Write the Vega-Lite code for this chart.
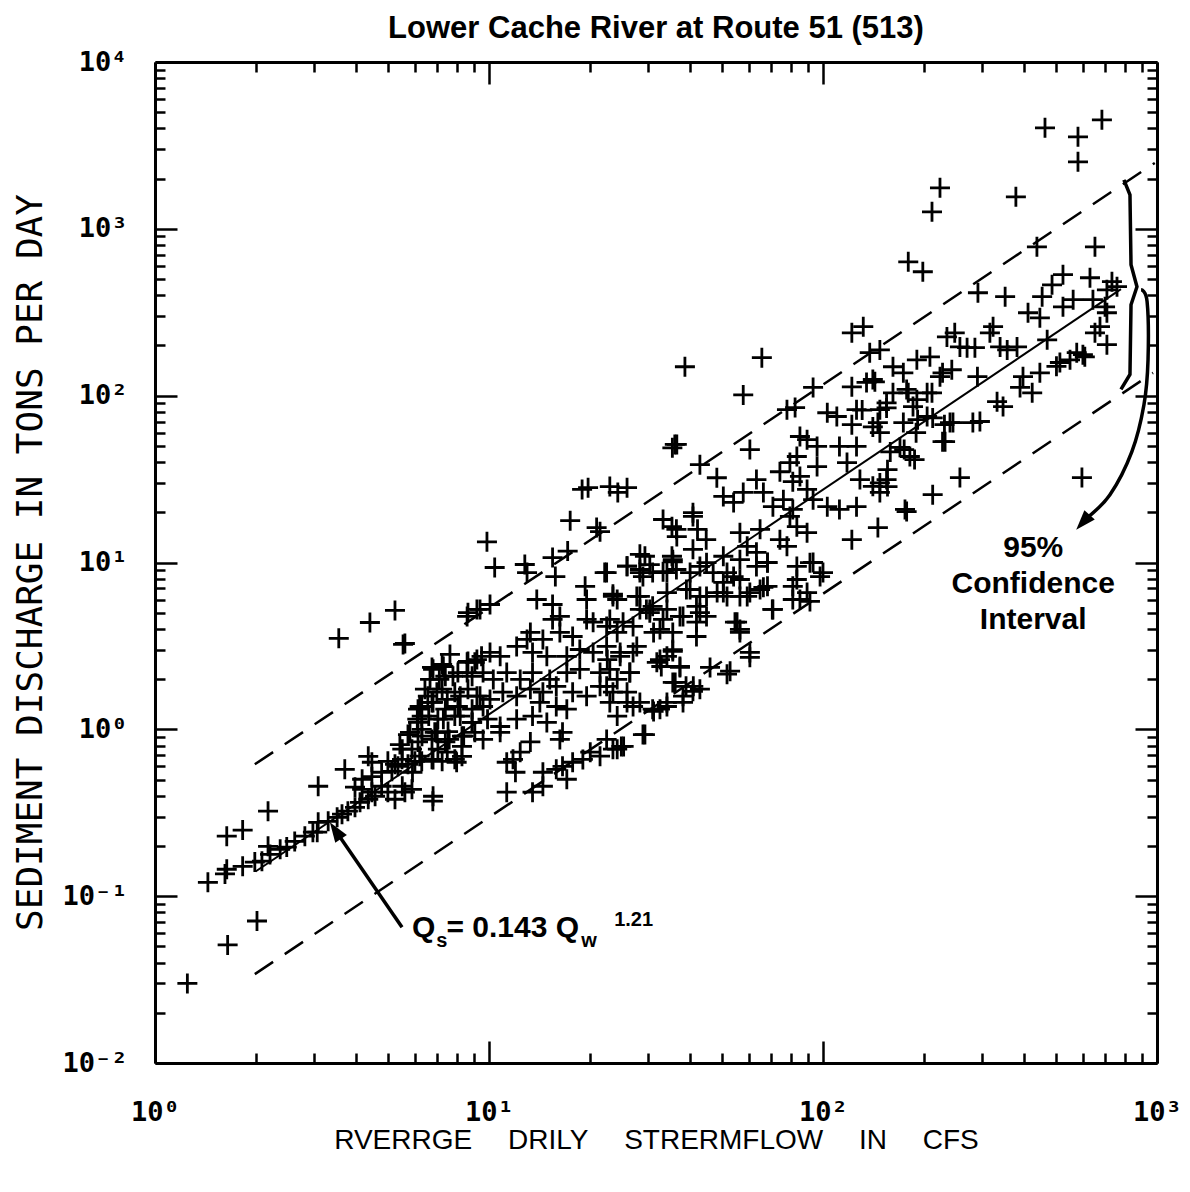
{
  "$schema": "https://vega.github.io/schema/vega-lite/v6.json",
  "width": 1002,
  "height": 1001,
  "autosize": "none",
  "padding": {"left": 155, "top": 62, "right": 33, "bottom": 129},
  "background": "white",
  "title": {"text": "Lower Cache River at Route 51 (513)", "font": "Liberation Sans", "fontWeight": "bold", "fontSize": 31, "color": "black", "anchor": "middle", "baseline": "alphabetic", "offset": 25, "dy": 46},
  "config": {
    "view": {"stroke": null},
    "axis": {"domainColor": "black", "domainWidth": 3, "tickColor": "black", "tickWidth": 2.5, "grid": false, "labelColor": "black", "titleColor": "black", "labelFont": "DejaVu Sans Mono", "labelFontWeight": "bold", "labelFontSize": 27}
  },
  "datasets": {
    "pts": [
      {"q":1.25,"s":0.030},{"q":1.65,"s":0.051},{"q":2.02,"s":0.071},{"q":1.44,"s":0.121},{"q":1.62,"s":0.136},{"q":1.64,"s":0.145},{"q":1.83,"s":0.151},{"q":1.99,"s":0.16},{"q":2.09,"s":0.162},{"q":2.21,"s":0.178},{"q":2.37,"s":0.191},{"q":2.18,"s":0.199},{"q":2.48,"s":0.197},{"q":2.62,"s":0.213},{"q":2.81,"s":0.229},{"q":2.97,"s":0.242},{"q":3.08,"s":0.277},{"q":3.06,"s":0.242},{"q":3.30,"s":0.281},{"q":3.51,"s":0.297},{"q":3.63,"s":0.31},{"q":3.78,"s":0.323},{"q":3.97,"s":0.341},{"q":4.11,"s":0.365},{"q":4.35,"s":0.381},{"q":4.56,"s":0.397},{"q":3.97,"s":0.45},{"q":4.17,"s":0.437},{"q":4.46,"s":0.42},{"q":4.77,"s":0.456},{"q":4.98,"s":0.42},{"q":5.23,"s":0.381},{"q":5.60,"s":0.42},{"q":5.88,"s":0.437},{"q":4.17,"s":0.502},{"q":4.46,"s":0.52},{"q":4.77,"s":0.553},{"q":5.12,"s":0.56},{"q":5.34,"s":0.60},{"q":5.72,"s":0.617},{"q":6.0,"s":0.643},{"q":4.35,"s":0.689},{"q":4.46,"s":0.635},{"q":4.98,"s":0.643},{"q":5.23,"s":0.617},{"q":5.49,"s":0.661},{"q":6.29,"s":0.643},{"q":6.75,"s":0.661},{"q":7.24,"s":0.643},{"q":7.9,"s":0.661},{"q":8.3,"s":0.689},{"q":6.79,"s":0.371},{"q":1.64,"s":0.229},{"q":1.83,"s":0.249},{"q":2.18,"s":0.323},{"q":3.08,"s":0.456},{"q":3.70,"s":0.576},{"q":3.55,"s":3.51},{"q":4.40,"s":4.37},{"q":5.23,"s":5.16},{"q":5.53,"s":3.23},{"q":8.65,"s":5.0},{"q":9.2,"s":5.23},
      {"q":6.75,"s":2.35},{"q":7.24,"s":2.45},{"q":8.65,"s":2.55},{"q":9.07,"s":2.52},{"q":9.5,"s":2.74},{"q":7.4,"s":2.08},{"q":8.07,"s":2.19},{"q":8.9,"s":2.08},{"q":7.24,"s":1.74},{"q":7.9,"s":1.67},{"q":8.65,"s":1.74},{"q":9.4,"s":1.58},{"q":6.29,"s":1.37},{"q":6.75,"s":1.45},{"q":7.4,"s":1.32},{"q":8.07,"s":1.37},{"q":8.9,"s":1.32},{"q":9.6,"s":1.37},{"q":6.29,"s":1.2},{"q":7.03,"s":1.15},{"q":7.9,"s":1.2},{"q":8.9,"s":1.10},{"q":6.29,"s":1.0},{"q":6.88,"s":0.96},{"q":7.54,"s":0.97},{"q":8.3,"s":0.91},{"q":9.07,"s":0.96},{"q":6.13,"s":0.84},{"q":6.75,"s":0.87},{"q":7.4,"s":0.84},{"q":8.3,"s":0.79},{"q":5.88,"s":0.76},{"q":7.03,"s":0.76},{"q":6.13,"s":1.32},{"q":6.56,"s":1.58},{"q":6.98,"s":1.67},{"q":6.13,"s":1.10},{"q":5.72,"s":0.93},{"q":5.41,"s":0.81},{"q":6.43,"s":1.74},{"q":6.66,"s":1.99},{"q":7.64,"s":2.81},
      {"q":36.5,"s":51},{"q":35.4,"s":48.7},{"q":19.0,"s":27.4},{"q":19.8,"s":28.1},{"q":23.0,"s":28.5},{"q":24.3,"s":26.3},{"q":25.9,"s":28.1},{"q":17.5,"s":17.8},{"q":21.0,"s":16.2},{"q":21.5,"s":15.3},{"q":9.86,"s":13.3},{"q":10.4,"s":9.33},{"q":12.8,"s":9.73},{"q":13.0,"s":8.7},{"q":15.5,"s":10.7},{"q":15.8,"s":8.24},{"q":17.2,"s":11.7},{"q":13.9,"s":6.0},{"q":15.5,"s":5.6},{"q":8.6,"s":4.75},{"q":9.4,"s":5.23},{"q":10.07,"s":5.6},{"q":5.6,"s":3.27},{"q":19.4,"s":7.2},{"q":19.6,"s":6.0},{"q":22.2,"s":8.7},{"q":23.5,"s":6.45},{"q":24.2,"s":6.0},{"q":28.3,"s":11.2},{"q":29.3,"s":10.9},{"q":25.9,"s":9.5},{"q":30.3,"s":9.7},{"q":28.3,"s":6.26},{"q":28.3,"s":8.7},{"q":33.2,"s":8.8},{"q":33.2,"s":18.1},{"q":35.3,"s":16.4},{"q":36.5,"s":14.3},{"q":40.8,"s":18.9},{"q":40.8,"s":12},{"q":35.3,"s":10.9},{"q":35.5,"s":10.1},{"q":40.0,"s":8.7},{"q":35.5,"s":3.0},{"q":32.5,"s":2.62},{"q":37.3,"s":2.38},{"q":36.1,"s":1.91},{"q":38.9,"s":1.81},{"q":40.8,"s":1.69},{"q":28.3,"s":1.45},{"q":30.9,"s":1.32},{"q":34.1,"s":1.37},{"q":38.1,"s":1.45},{"q":29.3,"s":0.93},{"q":24.9,"s":0.79},{"q":23.5,"s":0.76},{"q":21.5,"s":0.69},{"q":20.1,"s":0.73},{"q":19.1,"s":0.66},{"q":17.8,"s":0.635},{"q":16.6,"s":0.60},{"q":15.9,"s":0.576},{"q":14.5,"s":0.553},{"q":17.1,"s":0.502},{"q":14.5,"s":0.456},{"q":13.5,"s":0.42},{"q":11.8,"s":0.661},{"q":12.4,"s":0.73},{"q":11.3,"s":0.635},{"q":12.0,"s":0.553},{"q":11.3,"s":0.42},
      {"q":15.5,"s":4.56},{"q":16.3,"s":4.75},{"q":19.6,"s":4.56},{"q":20.5,"s":4.39},{"q":13.3,"s":3.81},{"q":14.5,"s":3.46},{"q":16.3,"s":3.81},{"q":17.8,"s":3.6},{"q":23.0,"s":4.56},{"q":24.2,"s":3.81},{"q":27.0,"s":4.14},{"q":29.6,"s":5.23},{"q":30.9,"s":5.46},{"q":10.07,"s":2.89},{"q":10.8,"s":2.74},{"q":12.1,"s":3.14},{"q":13.0,"s":3.46},{"q":13.5,"s":2.89},{"q":14.9,"s":2.74},{"q":17.1,"s":2.74},{"q":18.7,"s":3.01},{"q":20.5,"s":2.89},{"q":22.6,"s":2.62},{"q":24.7,"s":2.74},{"q":27.0,"s":2.89},{"q":6.8,"s":2.29},{"q":7.3,"s":2.38},{"q":8.6,"s":2.52},{"q":9.2,"s":2.62},{"q":7.1,"s":1.99},{"q":7.8,"s":2.08},{"q":8.6,"s":2.19},{"q":9.6,"s":2.19},{"q":10.3,"s":1.99},{"q":11.3,"s":2.19},{"q":12.4,"s":1.99},{"q":13.5,"s":2.19},{"q":15.2,"s":1.99},{"q":17.1,"s":2.19},{"q":18.7,"s":2.29},{"q":21.5,"s":2.19},{"q":24.2,"s":1.99},{"q":26.4,"s":2.19},{"q":6.2,"s":1.37},{"q":6.8,"s":1.45},{"q":7.5,"s":1.51},{"q":8.2,"s":1.58},{"q":9.2,"s":1.58},{"q":10.07,"s":1.51},{"q":11.0,"s":1.67},{"q":12.1,"s":1.58},{"q":13.3,"s":1.74},{"q":14.5,"s":1.67},{"q":15.9,"s":1.81},{"q":17.8,"s":1.67},{"q":19.6,"s":1.58},{"q":21.5,"s":1.81},{"q":23.5,"s":1.67},{"q":25.9,"s":1.45},{"q":6.1,"s":1.15},{"q":6.6,"s":1.2},{"q":7.3,"s":1.15},{"q":8.2,"s":1.2},{"q":8.9,"s":1.10},{"q":9.9,"s":1.15},{"q":10.8,"s":1.04},{"q":12.1,"s":1.15},{"q":13.5,"s":1.2},{"q":14.9,"s":1.10},{"q":15.9,"s":1.37},{"q":17.1,"s":1.32},{"q":14.2,"s":1.45},{"q":5.8,"s":0.96},{"q":6.3,"s":0.91},{"q":7.0,"s":0.96},{"q":7.6,"s":0.87},{"q":8.4,"s":0.91},{"q":9.6,"s":0.87},{"q":10.8,"s":0.96},{"q":16.6,"s":0.96},{"q":16.3,"s":0.87},{"q":13.3,"s":0.84},{"q":5.5,"s":0.76},{"q":6.2,"s":0.69},{"q":6.8,"s":0.66},{"q":7.5,"s":0.73},{"q":8.0,"s":0.635},{"q":5.9,"s":0.553},{"q":5.5,"s":0.456},{"q":6.8,"s":0.397},
      {"q":132,"s":259},{"q":122,"s":238},{"q":138,"s":181},{"q":148,"s":188},{"q":38.6,"s":149},{"q":65.6,"s":169},{"q":57.7,"s":101},{"q":36.0,"s":51},{"q":60.4,"s":47.5},{"q":42.8,"s":38.6},{"q":48.1,"s":32.2},{"q":93.4,"s":112},{"q":82.5,"s":84.8},{"q":78.0,"s":82.4},{"q":122,"s":113},{"q":135,"s":120},{"q":141,"s":125},{"q":162,"s":149},{"q":174,"s":137},{"q":178,"s":109},{"q":191,"s":94.6},{"q":103,"s":79},{"q":110,"s":75},{"q":126,"s":82.4},{"q":148,"s":82.4},{"q":155,"s":90.6},{"q":122,"s":67},{"q":141,"s":65},{"q":85.3,"s":56.9},{"q":89.6,"s":54.5},{"q":96.0,"s":49.6},{"q":112,"s":49.6},{"q":126,"s":49.6},{"q":174,"s":69},{"q":159,"s":46},{"q":79.6,"s":39.7},{"q":83.5,"s":43.2},{"q":96.0,"s":37.6},{"q":118,"s":39.7},{"q":129,"s":31.4},{"q":141,"s":28.6},{"q":155,"s":31.4},{"q":148,"s":26.3},{"q":74.3,"s":35.0},{"q":85.3,"s":32.8},{"q":63.2,"s":31.4},{"q":66.3,"s":26.3},{"q":81.2,"s":30.5},{"q":89.6,"s":27.4},{"q":50.3,"s":24.9},{"q":54.0,"s":22.9},{"q":57.7,"s":26.3},{"q":70.8,"s":21.6},{"q":76.1,"s":23.8},{"q":81.2,"s":20.8},{"q":93.4,"s":23.8},{"q":103,"s":21.6},{"q":112,"s":20.8},{"q":126,"s":21.6},{"q":178,"s":20.2},{"q":146,"s":16.2},{"q":122,"s":13.7},{"q":36.4,"s":15.8},{"q":40.8,"s":19.9},{"q":42.1,"s":15.8},{"q":44.7,"s":13.7},{"q":56.4,"s":15.1},{"q":59.3,"s":12.5},{"q":64.8,"s":15.8},{"q":79.6,"s":18.9},{"q":83.5,"s":16.4},{"q":89.6,"s":15.1},{"q":74.3,"s":13.7},{"q":78.0,"s":12.5},{"q":50.3,"s":10.9},{"q":56.4,"s":10.4},{"q":63.2,"s":11.5},{"q":68.2,"s":9.97},{"q":83.5,"s":9.47},{"q":91.4,"s":9.97},{"q":98.0,"s":8.24},{"q":83.5,"s":7.91},{"q":89.6,"s":6.6},{"q":81.2,"s":6.0},{"q":70.8,"s":5.23},{"q":68.2,"s":7.2},{"q":64.8,"s":6.89},{"q":28.3,"s":9.08},{"q":30.9,"s":8.7},{"q":35.5,"s":10.4},{"q":34.1,"s":8.7},{"q":42.8,"s":9.47},{"q":46.9,"s":8.7},{"q":50.3,"s":7.6},{"q":54.0,"s":8.24},{"q":40.0,"s":6.89},{"q":44.8,"s":6.26},{"q":50.3,"s":6.6},{"q":56.4,"s":6.26},{"q":60.4,"s":6.6},{"q":28.3,"s":5.23},{"q":30.3,"s":5.0},{"q":34.1,"s":5.23},{"q":37.3,"s":4.75},{"q":41.8,"s":5.46},{"q":44.8,"s":4.75},{"q":32.5,"s":3.97},{"q":35.5,"s":3.81},{"q":41.8,"s":3.6},{"q":55.3,"s":4.39},{"q":56.4,"s":3.81},{"q":60.4,"s":2.89},
      {"q":70.5,"s":5.23},{"q":60.4,"s":2.70},{"q":54.5,"s":4.39},{"q":56.4,"s":3.97},{"q":52.7,"s":2.23},{"q":51.6,"s":2.14},{"q":45.9,"s":2.35},{"q":42.8,"s":1.74},{"q":40.9,"s":1.81},{"q":38.1,"s":1.58},{"q":35.5,"s":1.91},{"q":34.1,"s":1.45},{"q":32.5,"s":1.32},{"q":31.1,"s":1.28},{"q":28.9,"s":0.93},{"q":37.3,"s":2.35},{"q":32.8,"s":2.38},{"q":35.5,"s":2.93},{"q":85.3,"s":6.0},{"q":91.4,"s":5.84},{"q":81.2,"s":7.2},{"q":100,"s":8.7},{"q":93.4,"s":10.0},{"q":66.3,"s":7.1},{"q":24.2,"s":0.76},{"q":25.3,"s":0.79},{"q":22.5,"s":0.87},{"q":22.5,"s":8.7},{"q":25.9,"s":9.5},{"q":28.9,"s":8.24},{"q":36.4,"s":9.08},{"q":44.8,"s":9.97},{"q":51.6,"s":8.7},{"q":56.4,"s":7.91},{"q":63.2,"s":9.47},{"q":68.2,"s":10.0},{"q":23.5,"s":6.26},{"q":27.7,"s":6.26},{"q":30.3,"s":5.23},{"q":34.1,"s":6.6},{"q":39.0,"s":6.9},{"q":42.8,"s":6.26},{"q":48.2,"s":6.6},{"q":51.6,"s":6.26},{"q":59.3,"s":6.26},{"q":22.5,"s":4.14},{"q":25.2,"s":4.39},{"q":31.1,"s":3.81},{"q":33.2,"s":4.56},{"q":38.1,"s":4.75},{"q":41.8,"s":4.39},{"q":42.8,"s":5.0},{"q":22.5,"s":3.14},{"q":24.7,"s":2.89},{"q":27.7,"s":3.14},{"q":31.8,"s":2.52},{"q":34.1,"s":2.74},{"q":23.0,"s":2.29},{"q":26.4,"s":2.19},{"q":22.5,"s":1.81},{"q":25.9,"s":1.67},{"q":23.0,"s":1.45},{"q":27.0,"s":1.37},{"q":24.2,"s":1.2},
      {"q":462,"s":4030},{"q":684,"s":4500},{"q":580,"s":3560},{"q":580,"s":2520},{"q":224,"s":1760},{"q":212,"s":1265},{"q":378,"s":1555},{"q":652,"s":780},{"q":180,"s":634},{"q":199,"s":553},{"q":437,"s":780},{"q":291,"s":414},{"q":351,"s":392},{"q":523,"s":531},{"q":485,"s":462},{"q":453,"s":392},{"q":630,"s":509},{"q":733,"s":482},{"q":759,"s":450},{"q":708,"s":431},{"q":561,"s":376},{"q":523,"s":341},{"q":643,"s":376},{"q":699,"s":341},{"q":708,"s":314},{"q":411,"s":314},{"q":446,"s":293},{"q":675,"s":259},{"q":652,"s":238},{"q":708,"s":202},{"q":575,"s":181},{"q":600,"s":176},{"q":512,"s":158},{"q":500,"s":150},{"q":549,"s":164},{"q":608,"s":171},{"q":469,"s":216},{"q":446,"s":137},{"q":397,"s":130},{"q":423,"s":104},{"q":389,"s":112},{"q":323,"s":259},{"q":316,"s":238},{"q":248,"s":238},{"q":235,"s":225},{"q":257,"s":196},{"q":270,"s":194},{"q":285,"s":194},{"q":339,"s":196},{"q":356,"s":188},{"q":381,"s":196},{"q":180,"s":104},{"q":212,"s":104},{"q":224,"s":130},{"q":243,"s":143},{"q":332,"s":92},{"q":346,"s":86},{"q":281,"s":69},{"q":295,"s":70},{"q":240,"s":69},{"q":232,"s":53},{"q":192,"s":71.8},{"q":205,"s":75},{"q":182,"s":43.2},{"q":188,"s":41.4},{"q":170,"s":49},{"q":257,"s":32.3},{"q":213,"s":25.5},{"q":176,"s":20.8},{"q":596,"s":32.3},{"q":191,"s":164},{"q":209,"s":171},{"q":228,"s":137},{"q":290,"s":130},{"q":143,"s":121},{"q":162,"s":104},{"q":205,"s":104},{"q":155,"s":84.4},{"q":186,"s":86},{"q":131,"s":82},{"q":146,"s":69},{"q":213,"s":73.6},{"q":231,"s":67},{"q":245,"s":69},{"q":148,"s":60},{"q":190,"s":60},{"q":228,"s":53},{"q":175,"s":47.5},{"q":156,"s":36},{"q":148,"s":30},{"q":156,"s":28.5}
    ],
    "dash": [
      {"q":1.99,"s":0.617,"g":"up"},{"q":985,"s":2483,"g":"up"},
      {"q":1.99,"s":0.0341,"g":"lo"},{"q":973,"s":137,"g":"lo"}
    ],
    "fit": [{"q":2.0,"s":0.1406},{"q":780,"s":435}],
    "brace": [
      {"q":796,"s":1965,"i":1},{"q":830,"s":1599,"i":2},{"q":836,"s":609,"i":3},{"q":871,"s":450,"i":4},{"q":836,"s":351,"i":5},{"q":830,"s":134,"i":6},{"q":780,"s":109,"i":7}
    ],
    "curve": [
      {"q":896,"s":431,"i":1},{"q":934,"s":366,"i":2},{"q":940,"s":164,"i":3},{"q":914,"s":88.3,"i":4},{"q":841,"s":46.2,"i":5},{"q":723,"s":25.5,"i":6},{"q":609,"s":18.1,"i":7}
    ],
    "arrow": [{"q":5.49,"s":0.0652},{"q":3.47,"s":0.2473}]
  },
  "layer": [
    {
      "data": {"name": "pts"},
      "mark": {"type": "point", "shape": "M-1,0L1,0M0,-1L0,1", "size": 400, "filled": false, "stroke": "black", "strokeWidth": 2.8, "opacity": 1},
      "encoding": {
        "x": {"field": "q", "type": "quantitative", "scale": {"type": "log", "domain": [1, 1000], "nice": false, "zero": false},
          "axis": {"orient": "bottom", "values": [1,2,3,4,5,6,7,8,9,10,20,30,40,50,60,70,80,90,100,200,300,400,500,600,700,800,900,1000],
            "labelExpr": "datum.value == 1 ? '10⁰' : datum.value == 10 ? '10¹' : datum.value == 100 ? '10²' : datum.value == 1000 ? '10³' : ''",
            "tickSize": {"condition": {"test": "indexof([1,10,100,1000], datum.value) >= 0", "value": -22}, "value": -10},
            "labelPadding": 58, "labelOverlap": false, "labelFlush": false,
            "title": "RVERRGE\u2003 DRILY\u2003 STRERMFLOW\u2003 IN\u2003 CFS", "titleFont": "Liberation Sans", "titleFontSize": 28, "titleFontWeight": "normal", "titleX": 501, "titleY": 77, "titleBaseline": "middle", "titleAlign": "center"}},
        "y": {"field": "s", "type": "quantitative", "scale": {"type": "log", "domain": [0.01, 10000], "nice": false, "zero": false},
          "axis": {"orient": "left", "values": [0.01,0.02,0.03,0.04,0.05,0.06,0.07,0.08,0.09,0.1,0.2,0.3,0.4,0.5,0.6,0.7,0.8,0.9,1,2,3,4,5,6,7,8,9,10,20,30,40,50,60,70,80,90,100,200,300,400,500,600,700,800,900,1000,2000,3000,4000,5000,6000,7000,8000,9000,10000],
            "labelExpr": "datum.value == 0.01 ? '10⁻²' : datum.value == 0.1 ? '10⁻¹' : datum.value == 1 ? '10⁰' : datum.value == 10 ? '10¹' : datum.value == 100 ? '10²' : datum.value == 1000 ? '10³' : datum.value == 10000 ? '10⁴' : ''",
            "tickSize": {"condition": {"test": "indexof([0.01,0.1,1,10,100,1000,10000], datum.value) >= 0", "value": -22}, "value": -10},
            "labelPadding": 50, "labelOverlap": false, "labelFlush": false, "labelBaseline": "middle",
            "title": "SEDIMENT DISCHARGE IN TONS PER DAY", "titleFont": "DejaVu Sans Mono", "titleFontSize": 36, "titleFontWeight": "normal", "titleX": -125, "titleY": 500, "titleBaseline": "middle", "titleAlign": "center", "titleAngle": 270}}
      }
    },
    {
      "data": {"name": "dash"},
      "mark": {"type": "line", "stroke": "black", "strokeWidth": 2.5, "strokeDash": [22, 14]},
      "encoding": {
        "x": {"field": "q", "type": "quantitative", "scale": {"type": "log", "domain": [1, 1000], "nice": false, "zero": false},
          "axis": {"orient": "top", "values": [1,2,3,4,5,6,7,8,9,10,20,30,40,50,60,70,80,90,100,200,300,400,500,600,700,800,900,1000], "labels": false, "title": null,
            "tickSize": {"condition": {"test": "indexof([1,10,100,1000], datum.value) >= 0", "value": -22}, "value": -10}}},
        "y": {"field": "s", "type": "quantitative", "scale": {"type": "log", "domain": [0.01, 10000], "nice": false, "zero": false},
          "axis": {"orient": "right", "values": [0.01,0.02,0.03,0.04,0.05,0.06,0.07,0.08,0.09,0.1,0.2,0.3,0.4,0.5,0.6,0.7,0.8,0.9,1,2,3,4,5,6,7,8,9,10,20,30,40,50,60,70,80,90,100,200,300,400,500,600,700,800,900,1000,2000,3000,4000,5000,6000,7000,8000,9000,10000], "labels": false, "title": null,
            "tickSize": {"condition": {"test": "indexof([0.01,0.1,1,10,100,1000,10000], datum.value) >= 0", "value": -22}, "value": -10}}},
        "detail": {"field": "g", "type": "nominal"}
      }
    },
    {
      "data": {"name": "fit"},
      "mark": {"type": "line", "stroke": "black", "strokeWidth": 2},
      "encoding": {
        "x": {"field": "q", "type": "quantitative", "scale": {"type": "log", "domain": [1, 1000], "nice": false, "zero": false}, "axis": null},
        "y": {"field": "s", "type": "quantitative", "scale": {"type": "log", "domain": [0.01, 10000], "nice": false, "zero": false}, "axis": null}
      }
    },
    {
      "data": {"name": "brace"},
      "mark": {"type": "line", "stroke": "black", "strokeWidth": 3.5, "interpolate": "linear"},
      "encoding": {
        "x": {"field": "q", "type": "quantitative", "scale": {"type": "log", "domain": [1, 1000], "nice": false, "zero": false}, "axis": null},
        "y": {"field": "s", "type": "quantitative", "scale": {"type": "log", "domain": [0.01, 10000], "nice": false, "zero": false}, "axis": null},
        "order": {"field": "i", "type": "quantitative"}
      }
    },
    {
      "data": {"name": "curve"},
      "mark": {"type": "line", "stroke": "black", "strokeWidth": 3.5, "interpolate": "cardinal"},
      "encoding": {
        "x": {"field": "q", "type": "quantitative", "scale": {"type": "log", "domain": [1, 1000], "nice": false, "zero": false}, "axis": null},
        "y": {"field": "s", "type": "quantitative", "scale": {"type": "log", "domain": [0.01, 10000], "nice": false, "zero": false}, "axis": null},
        "order": {"field": "i", "type": "quantitative"}
      }
    },
    {
      "data": {"name": "arrow"},
      "mark": {"type": "line", "stroke": "black", "strokeWidth": 3.5},
      "encoding": {
        "x": {"field": "q", "type": "quantitative", "scale": {"type": "log", "domain": [1, 1000], "nice": false, "zero": false}, "axis": null},
        "y": {"field": "s", "type": "quantitative", "scale": {"type": "log", "domain": [0.01, 10000], "nice": false, "zero": false}, "axis": null}
      }
    },
    {
      "data": {"values": [{"q": 3.47, "s": 0.2473}]},
      "mark": {"type": "point", "shape": "M0,-1L0.7,1L-0.7,1Z", "size": 400, "filled": true, "fill": "black", "stroke": null, "opacity": 1, "angle": 326},
      "encoding": {
        "x": {"field": "q", "type": "quantitative", "scale": {"type": "log", "domain": [1, 1000], "nice": false, "zero": false}, "axis": null},
        "y": {"field": "s", "type": "quantitative", "scale": {"type": "log", "domain": [0.01, 10000], "nice": false, "zero": false}, "axis": null}
      }
    },
    {
      "data": {"values": [{"q": 600, "s": 17.4}]},
      "mark": {"type": "point", "shape": "M0,-1L0.7,1L-0.7,1Z", "size": 400, "filled": true, "fill": "black", "stroke": null, "opacity": 1, "angle": 222},
      "encoding": {
        "x": {"field": "q", "type": "quantitative", "scale": {"type": "log", "domain": [1, 1000], "nice": false, "zero": false}, "axis": null},
        "y": {"field": "s", "type": "quantitative", "scale": {"type": "log", "domain": [0.01, 10000], "nice": false, "zero": false}, "axis": null}
      }
    },
    {
      "data": {"values": [{"q": 426, "s": 12.3, "t": "95%\nConfidence\nInterval"}]},
      "mark": {"type": "text", "font": "Liberation Sans", "fontWeight": "bold", "fontSize": 30, "align": "center", "baseline": "middle", "lineBreak": "\n", "lineHeight": 36, "color": "black"},
      "encoding": {
        "x": {"field": "q", "type": "quantitative", "scale": {"type": "log", "domain": [1, 1000], "nice": false, "zero": false}, "axis": null},
        "y": {"field": "s", "type": "quantitative", "scale": {"type": "log", "domain": [0.01, 10000], "nice": false, "zero": false}, "axis": null},
        "text": {"field": "t"}
      }
    },
    {
      "data": {"values": [{"q": 5.88, "s": 0.0568, "t": "Q"}]},
      "mark": {"type": "text", "font": "Liberation Sans", "fontWeight": "bold", "fontSize": 30, "align": "left", "baseline": "alphabetic", "color": "black"},
      "encoding": {
        "x": {"field": "q", "type": "quantitative", "scale": {"type": "log", "domain": [1, 1000], "nice": false, "zero": false}, "axis": null},
        "y": {"field": "s", "type": "quantitative", "scale": {"type": "log", "domain": [0.01, 10000], "nice": false, "zero": false}, "axis": null},
        "text": {"field": "t"}
      }
    },
    {
      "data": {"values": [{"q": 18.6, "s": 0.0568, "t": "= 0.143 Q"}]},
      "mark": {"type": "text", "font": "Liberation Sans", "fontWeight": "bold", "fontSize": 30, "align": "right", "baseline": "alphabetic", "color": "black"},
      "encoding": {
        "x": {"field": "q", "type": "quantitative", "scale": {"type": "log", "domain": [1, 1000], "nice": false, "zero": false}, "axis": null},
        "y": {"field": "s", "type": "quantitative", "scale": {"type": "log", "domain": [0.01, 10000], "nice": false, "zero": false}, "axis": null},
        "text": {"field": "t"}
      }
    },
    {
      "data": {"values": [{"q": 6.95, "s": 0.0495, "t": "s"}, {"q": 18.9, "s": 0.0495, "t": "w"}]},
      "mark": {"type": "text", "font": "Liberation Sans", "fontWeight": "bold", "fontSize": 20, "align": "left", "baseline": "alphabetic", "color": "black"},
      "encoding": {
        "x": {"field": "q", "type": "quantitative", "scale": {"type": "log", "domain": [1, 1000], "nice": false, "zero": false}, "axis": null},
        "y": {"field": "s", "type": "quantitative", "scale": {"type": "log", "domain": [0.01, 10000], "nice": false, "zero": false}, "axis": null},
        "text": {"field": "t"}
      }
    },
    {
      "data": {"values": [{"q": 23.7, "s": 0.0661, "t": "1.21"}]},
      "mark": {"type": "text", "font": "Liberation Sans", "fontWeight": "bold", "fontSize": 20, "align": "left", "baseline": "alphabetic", "color": "black"},
      "encoding": {
        "x": {"field": "q", "type": "quantitative", "scale": {"type": "log", "domain": [1, 1000], "nice": false, "zero": false}, "axis": null},
        "y": {"field": "s", "type": "quantitative", "scale": {"type": "log", "domain": [0.01, 10000], "nice": false, "zero": false}, "axis": null},
        "text": {"field": "t"}
      }
    }
  ],
  "resolve": {"axis": {"x": "independent", "y": "independent"}}
}
